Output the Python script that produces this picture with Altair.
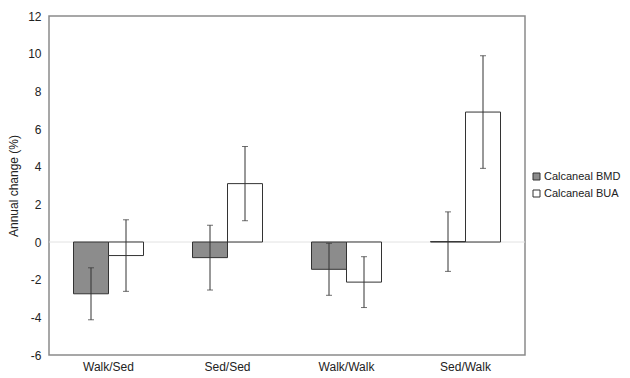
import altair as alt
import pandas as pd

groups = ["Walk/Sed", "Sed/Sed", "Walk/Walk", "Sed/Walk"]
measures = ["Calcaneal BMD", "Calcaneal BUA"]
bmd = [-2.75, -0.83, -1.45, 0.02]
bmd_err = [1.38, 1.72, 1.38, 1.58]
bua = [-0.72, 3.1, -2.13, 6.9]
bua_err = [1.9, 1.97, 1.35, 2.99]
y_ticks = [-6, -4, -2, 0, 2, 4, 6, 8, 10, 12]

rows = []
for i, g in enumerate(groups):
    rows.append({"group": g, "measure": measures[0], "value": bmd[i],
                 "lo": bmd[i] - bmd_err[i], "hi": bmd[i] + bmd_err[i]})
    rows.append({"group": g, "measure": measures[1], "value": bua[i],
                 "lo": bua[i] - bua_err[i], "hi": bua[i] + bua_err[i]})
df = pd.DataFrame(rows)

FONT = "Liberation Sans"
FS = 12

x = alt.X("group:N", sort=groups, title=None,
          scale=alt.Scale(paddingInner=0, paddingOuter=0),
          axis=alt.Axis(labelAngle=0, ticks=False, domain=False, labelPadding=6,
                        labelFontSize=FS, labelColor="#222", labelFont=FONT))
xo = alt.XOffset("measure:N", sort=measures,
                 scale=alt.Scale(paddingInner=0, paddingOuter=0.7))
yscale = alt.Scale(domain=[-6, 12], nice=False)
yaxis = alt.Axis(values=y_ticks, grid=False, ticks=False, labelOverlap=False,
                 labelExpr="'' + datum.value",
                 domain=False, labelPadding=8, labelFontSize=FS,
                 labelColor="#222", labelFont=FONT, titleFont=FONT,
                 titleFontSize=FS, titleFontWeight="normal",
                 titleColor="#222", titlePadding=7)
YT = "Annual change (%)"

bars = alt.Chart(df).mark_bar(stroke="#333", strokeWidth=1, opacity=1).encode(
    x=x, xOffset=xo,
    y=alt.Y("value:Q", scale=yscale, title=YT, axis=yaxis),
    fill=alt.Fill("measure:N", sort=measures,
                  scale=alt.Scale(domain=measures, range=["#8c8c8c", "#ffffff"]),
                  legend=alt.Legend(title=None, orient="none", legendX=482, legendY=155,
                                    padding=0,
                                    symbolType="square", symbolSize=49,
                                    symbolStrokeColor="#333", symbolStrokeWidth=1,
                                    labelFontSize=11, labelFont=FONT, labelColor="#222",
                                    rowPadding=5, labelOffset=2)),
)

zero = alt.Chart(pd.DataFrame({"z": [0]})).mark_rule(color="#e2e2e2", strokeWidth=1).encode(
    y=alt.Y("z:Q", scale=yscale, title=YT, axis=yaxis))

err = alt.Chart(df).mark_rule(color="#333", strokeWidth=1).encode(
    x=x, xOffset=xo, y=alt.Y("lo:Q", scale=yscale, title=YT, axis=yaxis), y2="hi:Q")

cap_lo = alt.Chart(df).mark_tick(color="#333", thickness=1, size=6).encode(
    x=x, xOffset=xo, y=alt.Y("lo:Q", scale=yscale, title=YT, axis=yaxis))
cap_hi = alt.Chart(df).mark_tick(color="#333", thickness=1, size=6).encode(
    x=x, xOffset=xo, y=alt.Y("hi:Q", scale=yscale, title=YT, axis=yaxis))

chart = alt.layer(zero, bars, err, cap_lo, cap_hi).properties(
    width=476, height=339,
    autosize=alt.AutoSizeParams(type="none"),
    padding={"left": 41, "top": 8, "right": 97, "bottom": 22},
).configure_view(stroke="#8a8a8a", strokeWidth=1.5)

chart.save("out.html", embed_options={"renderer": "svg", "actions": False})
